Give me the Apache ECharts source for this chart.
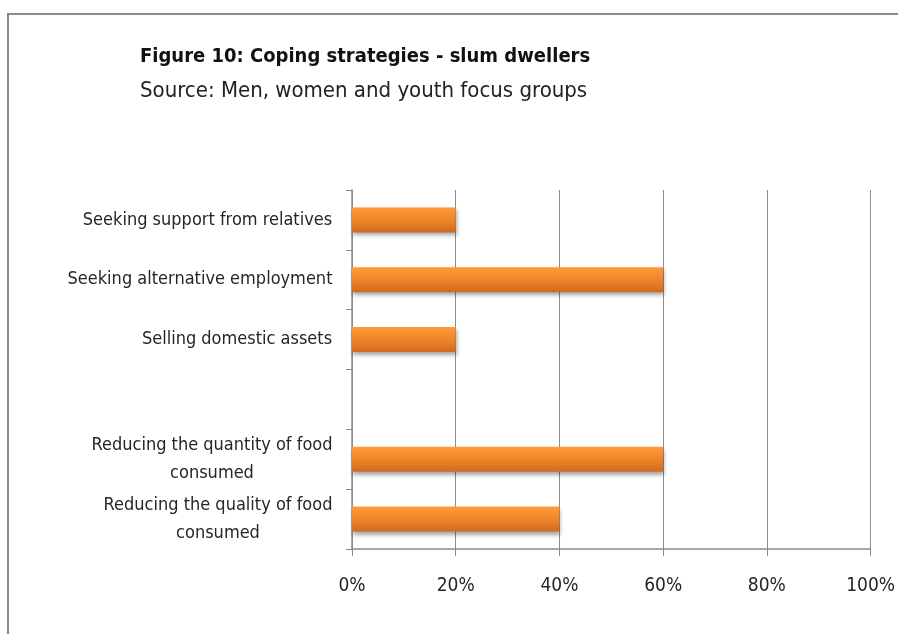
<!DOCTYPE html>
<html>
<head>
<meta charset="utf-8">
<script src="https://cdn.jsdelivr.net/npm/echarts@6/dist/echarts.min.js"></script>
<style>
  html, body { margin: 0; padding: 0; background: #fff; }
  #chart { width: 898px; height: 634px; }
</style>
</head>
<body>
<div id="chart"></div>
<script>
// Coping strategies reported by slum dwellers (share of focus groups)
const categories = [
  'Reducing the quality of food\nconsumed',
  'Reducing the quantity of food\nconsumed',
  '',
  'Selling domestic assets',
  'Seeking alternative employment',
  'Seeking support from relatives'
];
const values = [40, 60, null, 20, 60, 20];
const xTicks = [0, 20, 40, 60, 80, 100];

const FONT = '"Liberation Sans Narrow", "DejaVu Sans Condensed", "Open Sans", sans-serif';
const LABEL_SIZE = 18;

// measure the widest line of each label so wrapped lines can be centred within their block
const ctx = document.createElement('canvas').getContext('2d');
ctx.font = LABEL_SIZE + 'px ' + FONT;
const rich = {};
categories.forEach((c, i) => {
  const w = Math.max(0, ...c.split('\n').map(s => ctx.measureText(s).width));
  rich['c' + i] = {
    width: Math.ceil(w) + 1, align: 'center',
    fontFamily: FONT, fontSize: LABEL_SIZE, color: '#262626', lineHeight: 28
  };
});

const chart = echarts.init(document.getElementById('chart'), null, { renderer: 'canvas' });
chart.setOption({
  animation: false,
  backgroundColor: '#ffffff',
  graphic: [
    { type: 'polyline', shape: { points: [[8, 640], [8, 14], [900, 14]] },
      style: { stroke: '#8a8a8a', lineWidth: 2, fill: null } },
    { type: 'text', left: 140, top: 47,
      style: { text: 'Figure 10: Coping strategies - slum dwellers', font: 'bold 20px ' + FONT, fill: '#111' } },
    { type: 'text', left: 140, top: 80,
      style: { text: 'Source: Men, women and youth focus groups', font: '22px ' + FONT, fill: '#222' } }
  ],
  grid: { left: 352, right: 26, top: 190, bottom: 85, containLabel: false },
  xAxis: {
    type: 'value', min: 0, max: 100, interval: 20,
    axisLine: { show: true, lineStyle: { color: '#8c8c8c', width: 1.5 } },
    axisTick: { show: true, length: 7, lineStyle: { color: '#8c8c8c' } },
    splitLine: { show: true, lineStyle: { color: '#8c8c8c', width: 1 } },
    axisLabel: {
      margin: 28, fontFamily: FONT, fontSize: 19, color: '#262626',
      formatter: v => (xTicks.includes(v) ? v + '%' : '')
    }
  },
  yAxis: {
    type: 'category', data: categories,
    axisLine: { show: true, lineStyle: { color: '#8c8c8c', width: 1.5 } },
    axisTick: { show: true, length: 6, lineStyle: { color: '#8c8c8c' } },
    splitLine: { show: false },
    axisLabel: {
      margin: 19, align: 'right',
      formatter: (v, i) => v.split('\n').map(s => '{c' + i + '|' + s + '}').join('\n'),
      rich: rich
    }
  },
  series: [{
    type: 'bar', data: values, barWidth: 25,
    itemStyle: {
      color: new echarts.graphic.LinearGradient(0, 0, 0, 1, [
        { offset: 0, color: '#FF9B3A' },
        { offset: 0.5, color: '#EF8529' },
        { offset: 1, color: '#CF6B1E' }
      ]),
      shadowColor: 'rgba(0,0,0,0.35)', shadowBlur: 4, shadowOffsetX: 1, shadowOffsetY: 3
    }
  }]
});
</script>
</body>
</html>
